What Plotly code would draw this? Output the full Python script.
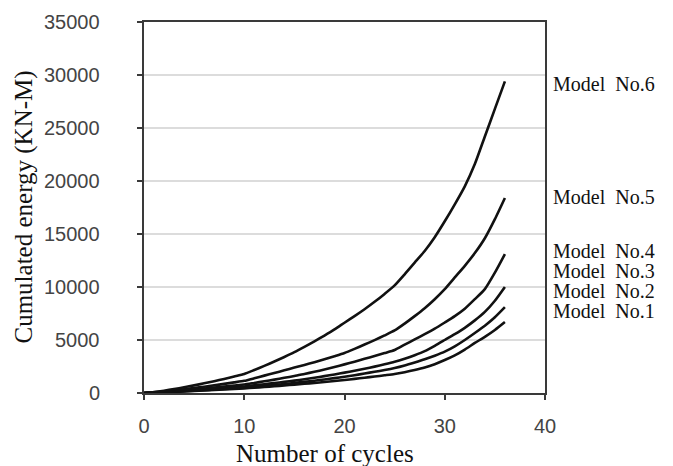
import plotly.graph_objects as go

cycles = list(range(0, 37))

model_1 = [0, 25, 60, 100, 140, 185, 230, 280, 330, 385, 440, 500, 570, 640, 710, 790,
           870, 950, 1040, 1130, 1230, 1330, 1440, 1550, 1670, 1790, 1960, 2160, 2400,
           2720, 3110, 3550, 4100, 4720, 5300, 5950, 6700]
model_2 = [0, 30, 70, 115, 165, 215, 270, 325, 385, 445, 510, 590, 670, 760, 850, 950,
           1050, 1160, 1280, 1400, 1540, 1680, 1840, 2000, 2170, 2360, 2600, 2880, 3180,
           3520, 3900, 4400, 5000, 5660, 6350, 7150, 8100]
model_3 = [0, 35, 85, 140, 200, 260, 330, 400, 470, 540, 620, 720, 830, 940, 1050, 1170,
           1300, 1440, 1590, 1750, 1920, 2100, 2290, 2490, 2710, 2950, 3240, 3570, 3950,
           4450, 5000, 5550, 6150, 6850, 7650, 8700, 10000]
model_4 = [0, 45, 110, 180, 260, 340, 420, 510, 600, 700, 800, 950, 1100, 1260, 1430, 1600,
           1800, 2000, 2220, 2450, 2700, 2950, 3220, 3490, 3770, 4060, 4560, 5050, 5550,
           6070, 6650, 7250, 7950, 8850, 9800, 11350, 13100]
model_5 = [0, 60, 150, 250, 360, 470, 590, 720, 860, 1000, 1150, 1390, 1640, 1890, 2140, 2400,
           2650, 2910, 3190, 3470, 3770, 4160, 4570, 4990, 5430, 5900, 6550, 7250, 8000,
           8850, 9800, 10900, 12000, 13200, 14600, 16400, 18400]
model_6 = [0, 90, 220, 370, 540, 720, 910, 1110, 1330, 1560, 1800, 2170, 2560, 2970, 3400, 3850,
           4350, 4870, 5420, 6000, 6630, 7250, 7900, 8600, 9350, 10150, 11200, 12300, 13400,
           14700, 16200, 17800, 19500, 21600, 24200, 26800, 29400]

series = [model_1, model_2, model_3, model_4, model_5, model_6]
labels = ["Model  No.1", "Model  No.2", "Model  No.3", "Model  No.4", "Model  No.5", "Model  No.6"]
label_y = [7736, 9623, 11509, 13396, 18491, 29151]

x_ticks = [0, 10, 20, 30, 40]
y_ticks = [0, 5000, 10000, 15000, 20000, 25000, 30000, 35000]

fig = go.Figure()
for s in series:
    fig.add_trace(go.Scatter(x=cycles, y=s, mode="lines",
                             line=dict(color="#111111", width=2.6, shape="spline", smoothing=0.6),
                             showlegend=False, hoverinfo="skip"))

for lab, ly in zip(labels, label_y):
    fig.add_annotation(x=1, xref="paper", y=ly, yref="y", xanchor="left", yanchor="middle",
                       xshift=6, text=lab, showarrow=False,
                       font=dict(family="Liberation Serif", size=20, color="#111111"))

# y tick labels drawn at their axis values
for v in y_ticks:
    fig.add_annotation(x=0, xref="paper", y=v, yref="y", xanchor="right", yanchor="middle",
                       xshift=-42, text=str(v), showarrow=False,
                       font=dict(family="Liberation Sans", size=20, color="#444444"))

fig.add_annotation(x=0.4526, xref="paper", y=0, yref="paper", xanchor="center", yanchor="middle",
                   yshift=-60, text="Number of cycles", showarrow=False,
                   font=dict(family="Liberation Serif", size=25, color="#111111"))
fig.add_annotation(x=0, xref="paper", y=0.5, yref="paper", xanchor="center", yanchor="middle",
                   xshift=-121, textangle=-90, text="Cumulated energy (KN-M)", showarrow=False,
                   font=dict(family="Liberation Serif", size=25, color="#111111"))

axis_common = dict(showline=True, linecolor="#3a3a3a", linewidth=2, mirror=True,
                   ticks="outside", ticklen=5, tickcolor="#3a3a3a", tickwidth=1.5,
                   zeroline=False, automargin=False)

fig.update_xaxes(range=[0, 40], tickvals=x_ticks, showgrid=False, ticklabelstandoff=9,
                 tickfont=dict(family="Liberation Sans", size=20, color="#444444"),
                 **axis_common)
fig.update_yaxes(range=[0, 35000], tickvals=y_ticks, showticklabels=False, showgrid=True,
                 gridcolor="#dcdcdc", gridwidth=1.5, **axis_common)

fig.update_layout(width=673, height=466, margin=dict(l=144, r=128, t=22, b=73),
                  plot_bgcolor="white", paper_bgcolor="white")

fig.write_html("out.html")
